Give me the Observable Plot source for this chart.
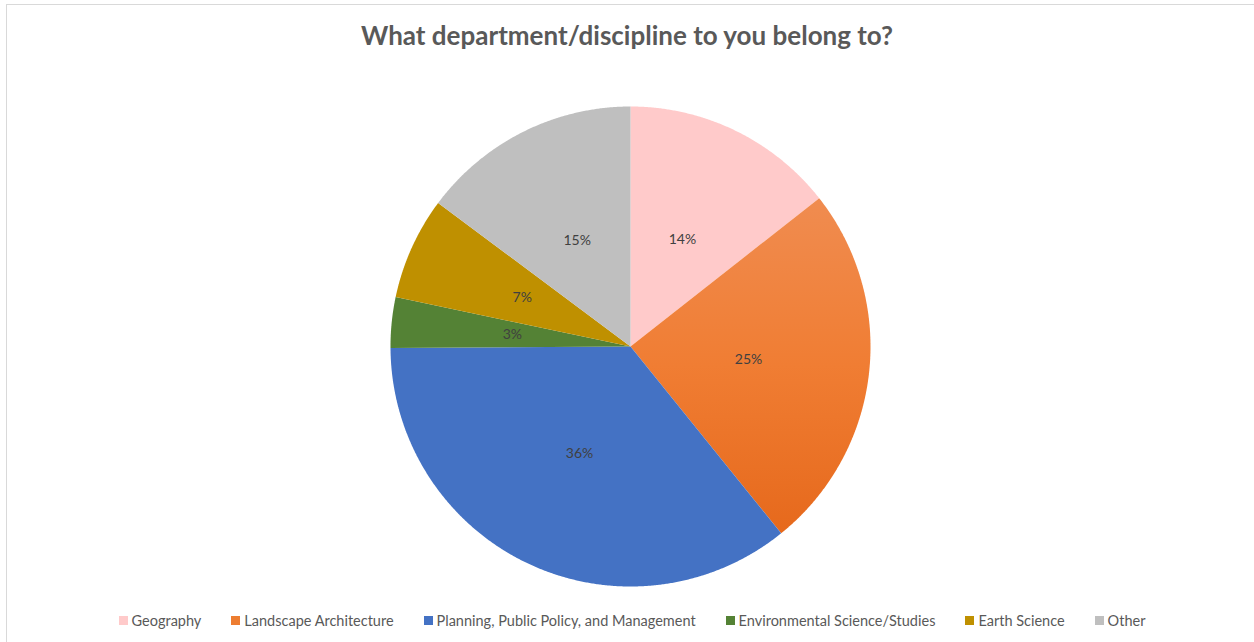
<!DOCTYPE html>
<html>
<head>
<meta charset="utf-8">
<script src="https://cdn.jsdelivr.net/npm/d3@7"></script>
<script src="https://cdn.jsdelivr.net/npm/@observablehq/plot@0.6"></script>
<style>
  html, body { margin: 0; padding: 0; background: #fff; }
  #frame { position: absolute; left: 6px; top: 4px; width: 1260px; height: 700px;
           border-left: 1px solid #d9d9d9; border-top: 1px solid #d9d9d9; }
  #wrap { position: absolute; left: 0; top: 0; width: 1254px; }
  #title { height: 70px; line-height: 70px; text-align: center; font-family: Lato, sans-serif;
           font-weight: bold; font-size: 26px; color: #595959; }
  #legend { display: flex; justify-content: center; gap: 30px; height: 40px; align-items: center;
            font-family: Lato, sans-serif; font-size: 14.5px; color: #595959; padding-left: 10px; }
  .item { display: flex; align-items: center; gap: 4px; }
  .sw { width: 9px; height: 9px; display: inline-block; }
</style>
</head>
<body>
<div id="frame"></div>
<div id="wrap">
  <div id="title">What department/discipline to you belong to?</div>
  <div id="chart"></div>
  <div id="legend"></div>
</div>
<script>
const categories = ["Geography", "Landscape Architecture", "Planning, Public Policy, and Management", "Environmental Science/Studies", "Earth Science", "Other"];
const values = [14.4, 24.8, 35.7, 3.4, 6.9, 14.8];
const colors = ["#FFCACA", "#ED7D31", "#4472C4", "#548235", "#BF9000", "#BFBFBF"];
const fills = ["#FFCACA", "url(#orangeGrad)", "#4472C4", "#548235", "#BF9000", "#BFBFBF"];

const total = d3.sum(values);
const pie = d3.pie().sort(null).value(d => d.value);
const slices = pie(categories.map((c, i) => ({category: c, value: values[i], fill: fills[i]})));

// polygon outline for each slice in unit coordinates (angle 0 = top, clockwise)
const outline = [];
for (const s of slices) {
  const c = s.data.category;
  outline.push({category: c, fill: s.data.fill, x: 0, y: 0});
  const n = Math.max(2, Math.ceil((s.endAngle - s.startAngle) / 0.005));
  for (let k = 0; k <= n; k++) {
    const a = s.startAngle + (s.endAngle - s.startAngle) * k / n;
    outline.push({category: c, fill: s.data.fill, x: Math.sin(a), y: Math.cos(a)});
  }
}
const labels = slices.map(s => {
  const a = (s.startAngle + s.endAngle) / 2;
  return {x: 0.495 * Math.sin(a), y: 0.495 * Math.cos(a), text: d3.format(".0%")(s.data.value / total)};
});

const R = 240, cx = 630, padTop = 36, H = 530;
const chart = Plot.plot({
  width: 1254,
  height: H,
  marginLeft: cx - R,
  marginRight: 1254 - cx - R,
  marginTop: padTop,
  marginBottom: H - padTop - 2 * R,
  x: {domain: [-1, 1], axis: null},
  y: {domain: [-1, 1], axis: null},
  color: {type: "identity"},
  style: {background: "transparent", overflow: "visible"},
  marks: [
    Plot.line(outline, {x: "x", y: "y", z: "category", fill: "fill", stroke: "none", curve: "linear-closed"}),
    Plot.text(labels, {x: "x", y: "y", text: "text", fill: "#404040", fontSize: 14, fontFamily: "Lato, sans-serif"})
  ]
});
const ns = "http://www.w3.org/2000/svg";
const defs = document.createElementNS(ns, "defs");
defs.innerHTML = '<linearGradient id="orangeGrad" x1="0" y1="0" x2="0" y2="1">' +
  '<stop offset="0" stop-color="#F08C50"/><stop offset="0.5" stop-color="#F07D33"/><stop offset="1" stop-color="#E6691C"/></linearGradient>';
chart.insertBefore(defs, chart.firstChild);
document.getElementById("chart").appendChild(chart);

const legend = document.getElementById("legend");
categories.forEach((c, i) => {
  const it = document.createElement("div");
  it.className = "item";
  it.innerHTML = `<span class="sw" style="background:${colors[i]}"></span><span>${c}</span>`;
  legend.appendChild(it);
});
</script>
</body>
</html>
